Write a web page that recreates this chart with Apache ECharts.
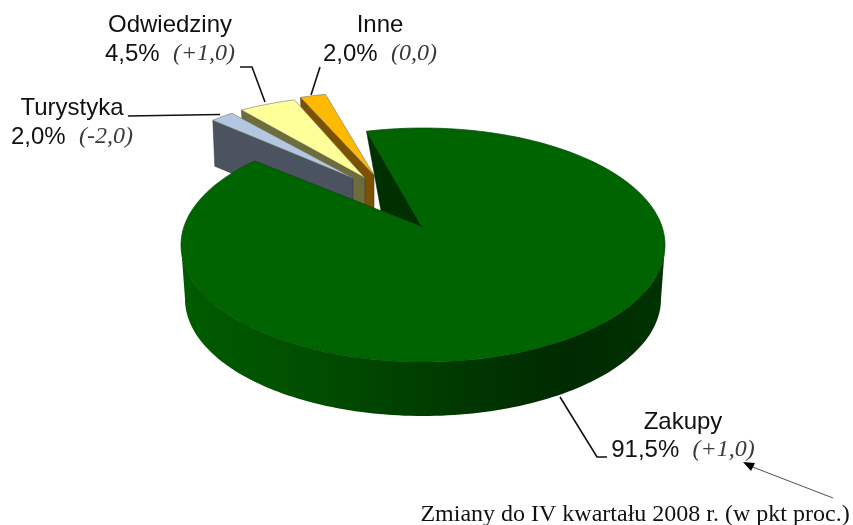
<!DOCTYPE html>
<html><head><meta charset="utf-8">
<style>html,body{margin:0;padding:0;background:#fff}#c{width:853px;height:525px}</style>
<script src="https://cdn.jsdelivr.net/npm/echarts@6/dist/echarts.min.js"></script>
</head><body><div id="c"></div>
<script>
const categories = ['Zakupy', 'Turystyka', 'Odwiedziny', 'Inne'];
const shares = [91.5, 2.0, 4.5, 2.0];
const shareLabels = ['91,5%', '2,0%', '4,5%', '2,0%'];
const changes = ['(+1,0)', '(-2,0)', '(+1,0)', '(0,0)'];
const caption = 'Zmiany do IV kwartału 2008 r. (w pkt proc.)';

// appearance, per slice, in the same order as categories
const looks = [
  {top:'#006400', cx:423, cy:245, a:242, b:117, ax:422, ay:227, z:40},
  {top:'#B4C7E2', wall:'#4B5361', cx:352, cy:182, a:200, b:86, ax:353, ay:178, depth:46, z:30},
  {top:'#FFFF99', wall:'#6C6C3C', cx:370, cy:170, a:214, b:75, ax:365, ay:178, depth:46, z:20},
  {top:'#FFB900', wall:'#7C5200', cx:374, cy:175, a:208, b:83, ax:374, ay:175, depth:46, z:10}
];
const startDeg = -13.5, mainDepth = 54, bottomA = 238;
const total = shares.reduce((s, v) => s + v, 0);

function onEllipse(l, deg) {
  const r = deg * Math.PI / 180;
  return [l.cx + l.a * Math.sin(r), l.cy - l.b * Math.cos(r)];
}
function arc(l, from, to) {
  const pts = [], n = Math.max(2, Math.ceil(Math.abs(to - from) / 1.5));
  for (let i = 0; i <= n; i++) pts.push(onEllipse(l, from + (to - from) * i / n));
  return pts;
}
const wallGrad = new echarts.graphic.LinearGradient(0, 0, 1, 0, [
  {offset:0, color:'#005C00'}, {offset:.3, color:'#004C00'},
  {offset:.62, color:'#003500'}, {offset:.8, color:'#002A00'}, {offset:1, color:'#003300'}
]);

function renderSlice(params, api) {
  const i = api.value(1), l = looks[i];
  let from = startDeg;
  for (let k = 0; k < i; k++) from += shares[k] / total * 360;
  const to = from + api.value(0) / total * 360;
  const children = [];
  const top = [[l.ax, l.ay]].concat(arc(l, from, to));
  if (i === 0) {
    // front rim
    const front = arc(l, 90, 270);
    const low = arc({cx:l.cx, cy:l.cy + mainDepth, a:bottomA, b:l.b}, 270, 90);
    children.push({type:'polygon', z2:l.z, shape:{points:front.concat(low)}, style:{fill:wallGrad}});
    // cut face at the start of the slice
    const s = onEllipse(l, from), e = onEllipse(l, to);
    const f = 0.245;
    children.push({type:'polygon', z2:l.z + 1,
      shape:{points:[s, [l.ax, l.ay], [l.ax + (e[0] - l.ax) * f, l.ay + (e[1] - l.ay) * f]]},
      style:{fill:'#003000', stroke:'#002000', lineWidth:.5}});
    children.push({type:'polygon', z2:l.z + 2, shape:{points:top}, style:{fill:l.top, stroke:'#004800', lineWidth:.7}});
  } else {
    const s = onEllipse(l, from);
    children.push({type:'polygon', z2:l.z,
      shape:{points:[s, [l.ax, l.ay], [l.ax, l.ay + l.depth], [s[0] + 2, s[1] + l.depth]]},
      style:{fill:l.wall, stroke:'#333', lineWidth:.5}});
    children.push({type:'polygon', z2:l.z + 1, shape:{points:top}, style:{fill:l.top, stroke:'#77776a', lineWidth:.6}});
  }
  return {type:'group', children};
}

const txtCol = '#111', chCol = '#3a3a3a';
const rich = {
  n:{fontFamily:'Liberation Sans', fontSize:24, fill:txtCol},
  c:{fontFamily:'Liberation Serif', fontStyle:'italic', fontSize:24, fill:chCol}
};
function label(i, x, y1, y2) {
  return [
    {type:'text', x, y:y1, style:{text:categories[i], align:'center', verticalAlign:'middle', fontFamily:'Liberation Sans', fontSize:24, fill:txtCol}},
    {type:'text', x, y:y2, style:{text:'{n|' + shareLabels[i] + '  }{c|' + changes[i] + '}', align:'center', verticalAlign:'middle', rich}}
  ];
}
function leader(points) {
  return {type:'polyline', shape:{points}, style:{stroke:'#111', lineWidth:1.6, fill:null}};
}

const chart = echarts.init(document.getElementById('c'), null, {renderer:'canvas'});
chart.setOption({
  animation:false,
  backgroundColor:'#fff',
  series:[{
    type:'custom', coordinateSystem:'none', silent:true,
    renderItem:renderSlice,
    data:shares.map((v, i) => ({name:categories[i], value:[v, i]}))
  }],
  graphic:[
    ...label(0, 683, 422, 450),
    ...label(1, 72, 108, 137),
    ...label(2, 170, 25, 54),
    ...label(3, 380, 25, 54),
    leader([[128,116],[220,114.5]]),
    leader([[240,67],[252,67],[265,102]]),
    leader([[320,67],[311,95]]),
    leader([[560,397],[597,457],[607,457]]),
    {type:'line', shape:{x1:833,y1:498,x2:750,y2:466}, style:{stroke:'#222', lineWidth:.8}},
    {type:'polygon', shape:{points:[[743,462],[755,463],[751,471]]}, style:{fill:'#000'}},
    {type:'text', x:635, y:515, style:{text:caption, align:'center', verticalAlign:'middle', fontFamily:'Liberation Serif', fontSize:24, fill:'#111'}}
  ]
});
</script></body></html>
